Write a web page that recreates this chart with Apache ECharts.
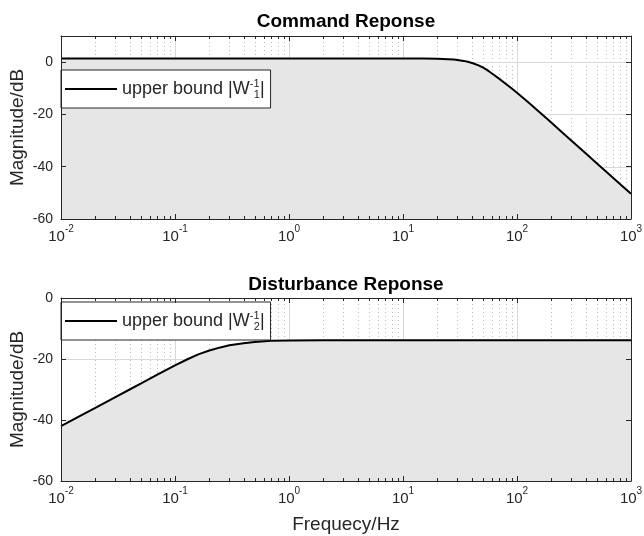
<!DOCTYPE html>
<html>
<head>
<meta charset="utf-8">
<title>Command / Disturbance Reponse</title>
<script src="https://cdn.jsdelivr.net/npm/echarts@6/dist/echarts.min.js"></script>
<style>
  html, body { margin: 0; padding: 0; background: #fff; }
  #chart { width: 644px; height: 536px; }
</style>
</head>
<body>
<div id="chart"></div>
<script>
// Upper bound of the command response |W1^-1| (frequency in Hz, magnitude in dB)
const cmdFreq = [0.01, 0.1, 1, 5, 10, 15, 20, 25, 28, 31, 34, 37, 41, 46, 50, 54, 57, 63, 70, 80, 90, 100,
  112, 130, 156, 191, 240, 306, 400, 500, 600, 800, 1000];
const cmdMag = [1.4, 1.4, 1.4, 1.4, 1.4, 1.4, 1.34, 1.15, 0.98, 0.76, 0.48, 0.13, -0.43, -1.25, -2.01, -2.88, -3.56, -4.91,
  -6.4, -8.34, -10.1, -11.73, -13.52, -15.94, -18.95, -22.33, -26.2, -30.31, -34.85, -38.63, -41.72, -46.59, -50.37];

// Upper bound of the disturbance response |W2^-1|
const distFreq = [0.01, 0.015, 0.02, 0.03, 0.04, 0.05, 0.07, 0.1, 0.13, 0.16, 0.2, 0.25, 0.3, 0.4,
  0.5, 0.7, 1, 2, 5, 10, 100, 1000];
const distMag = [-42.0, -38.5, -36.0, -32.5, -30.0, -28.05, -25.15, -22.1, -20.0, -18.5, -17.2, -16.2, -15.5, -14.8,
  -14.4, -14.05, -13.9, -13.85, -13.85, -13.85, -13.85, -13.85];

// Axis ticks
const decadeTicks = [0.01, 0.1, 1, 10, 100, 1000];
const decadeExponents = ['-2', '-1', '0', '1', '2', '3'];
const minorTicks = [];
decadeTicks.slice(0, -1).forEach(d => { for (let k = 2; k <= 9; k++) minorTicks.push(+(d * k).toPrecision(3)); });
const cmdYGrid = [0, -20, -40];
const distYGrid = [-20, -40];

const titles = ['Command Reponse', 'Disturbance Reponse'];
const yName = 'Magnitude/dB';
const xName = 'Frequecy/Hz';
const legendLabels = ['upper bound |W{sup|-1}{sub|1}|', 'upper bound |W{sup|-1}{sub|2}|'];

const FONT = '"Liberation Sans", Arial, Helvetica, sans-serif';
const INK = '#262626';
const X_MIN = 0.01, X_MAX = 1000;
const yRanges = [[-60, 10], [-60, 0]];
const grids = [
  { left: 61, top: 36, width: 570, height: 183 },
  { left: 61, top: 298, width: 570, height: 183 }
];

const chart = echarts.init(document.getElementById('chart'), null, { renderer: 'canvas' });

function xAxisPair(gi) {
  const base = {
    gridIndex: gi, type: 'log', logBase: 10, min: X_MIN, max: X_MAX, z: 5,
    axisLine: { show: true, onZero: false, lineStyle: { color: INK, width: 1 } },
    axisTick: { show: true, inside: true, length: 5, lineStyle: { color: INK } },
    splitLine: { show: false }, minorTick: { show: false }
  };
  const bottom = Object.assign({}, base, {
    position: 'bottom',
    axisLabel: {
      show: true, margin: 5, interval: 0, hideOverlap: false,
      formatter: (v, i) => '{b|10}{s|' + decadeExponents[i] + '}',
      rich: {
        b: { fontFamily: FONT, fontSize: 15, color: INK, lineHeight: 26 },
        s: { fontFamily: FONT, fontSize: 10, color: INK, lineHeight: 10, verticalAlign: 'top' }
      }
    }
  });
  if (gi === 1) {
    Object.assign(bottom, {
      name: xName, nameLocation: 'middle', nameGap: 34, nameMoveOverlap: false,
      nameTextStyle: { fontFamily: FONT, fontSize: 19, color: INK }
    });
  }
  const top = Object.assign({}, base, { position: 'top', axisLabel: { show: false } });
  return [bottom, top];
}

function yAxisPair(gi) {
  const [lo, hi] = yRanges[gi];
  const base = {
    gridIndex: gi, type: 'value', min: lo, max: hi, interval: 20, z: 5,
    axisLine: { show: true, onZero: false, lineStyle: { color: INK, width: 1 } },
    axisTick: { show: true, inside: true, length: 5, lineStyle: { color: INK } },
    splitLine: { show: false }
  };
  const left = Object.assign({}, base, {
    position: 'left',
    name: yName, nameLocation: 'middle', nameGap: 34, nameMoveOverlap: false,
    nameTextStyle: { fontFamily: FONT, fontSize: 19, color: INK },
    axisLabel: { show: true, margin: 8, showMaxLabel: gi === 1, fontFamily: FONT, fontSize: 14, color: INK }
  });
  const right = Object.assign({}, base, { position: 'right', axisLabel: { show: false } });
  return [left, right];
}

// Grid lines: major (solid) and minor (dotted) decades plus horizontal dB lines
function gridLineSeries(gi, yVals) {
  const [lo, hi] = yRanges[gi];
  const rows = [];
  decadeTicks.forEach(f => rows.push([f, lo, 0]));
  minorTicks.forEach(f => rows.push([f, lo, 1]));
  yVals.forEach(y => rows.push([X_MIN, y, 2]));
  return {
    type: 'custom', xAxisIndex: gi * 2, yAxisIndex: gi * 2, z: 1, silent: true,
    encode: { x: 0, y: 1 },
    data: rows,
    renderItem: (params, api) => {
      const kind = api.value(2);
      let p1, p2;
      if (kind === 2) {
        p1 = api.coord([X_MIN, api.value(1)]);
        p2 = api.coord([X_MAX, api.value(1)]);
        p1[1] = p2[1] = Math.round(p1[1]) + 0.5;
      } else {
        p1 = api.coord([api.value(0), lo]);
        p2 = api.coord([api.value(0), hi]);
        p1[0] = p2[0] = Math.round(p1[0]) + 0.5;
      }
      return {
        type: 'line',
        shape: { x1: p1[0], y1: p1[1], x2: p2[0], y2: p2[1] },
        style: kind === 1
          ? { stroke: '#bdbdbd', lineWidth: 1, lineDash: [1, 3] }
          : { stroke: '#d9d9d9', lineWidth: 1 }
      };
    }
  };
}

// Minor tick marks on the top and bottom frame
function minorTickSeries(gi) {
  const [lo, hi] = yRanges[gi];
  return {
    type: 'custom', xAxisIndex: gi * 2, yAxisIndex: gi * 2, z: 4, silent: true,
    encode: { x: 0, y: 1 },
    data: minorTicks.map(f => [f, lo]),
    renderItem: (params, api) => {
      const b = api.coord([api.value(0), lo]);
      const t = api.coord([api.value(0), hi]);
      const x = Math.round(b[0]) + 0.5;
      return {
        type: 'group',
        children: [
          { type: 'line', shape: { x1: x, y1: b[1], x2: x, y2: b[1] - 3 }, style: { stroke: INK, lineWidth: 1 } },
          { type: 'line', shape: { x1: x, y1: t[1], x2: x, y2: t[1] + 3 }, style: { stroke: INK, lineWidth: 1 } }
        ]
      };
    }
  };
}

function boundSeries(gi, name, freq, mag) {
  return {
    type: 'line', name, xAxisIndex: gi * 2, yAxisIndex: gi * 2, z: 2,
    data: freq.map((f, i) => [f, mag[i]]),
    symbol: 'none', showSymbol: false, smooth: false,
    lineStyle: { color: '#000', width: 2, join: 'round' },
    itemStyle: { color: '#000' },
    areaStyle: { color: '#e6e6e6', opacity: 1, origin: 'start' }
  };
}

const legendRich = {
  sup: { fontFamily: FONT, fontSize: 11, color: INK, lineHeight: 11, verticalAlign: 'top', width: 4 },
  sub: { fontFamily: FONT, fontSize: 11, color: INK, lineHeight: 11, verticalAlign: 'bottom' }
};

function legendBox(top, seriesName, label) {
  return {
    data: [{ name: seriesName, icon: 'rect' }], left: 61, top: top, orient: 'horizontal',
    backgroundColor: '#fff', borderColor: INK, borderWidth: 1, borderRadius: 0,
    padding: [8, 6, 8, 4], itemWidth: 52, itemHeight: 2, itemGap: 0,
    selectedMode: false,
    formatter: () => label,
    textStyle: { fontFamily: FONT, fontSize: 18, color: INK, lineHeight: 22, rich: legendRich }
  };
}

const option = {
  animation: false,
  backgroundColor: '#fff',
  title: [
    { text: titles[0], left: 346, top: 12, textAlign: 'center', padding: 0,
      textStyle: { fontFamily: FONT, fontSize: 19, fontWeight: 'bold', color: '#000' } },
    { text: titles[1], left: 346, top: 275, textAlign: 'center', padding: 0,
      textStyle: { fontFamily: FONT, fontSize: 19, fontWeight: 'bold', color: '#000' } }
  ],
  grid: grids.map(g => Object.assign({ containLabel: false, outerBoundsMode: 'none' }, g)),
  xAxis: [...xAxisPair(0), ...xAxisPair(1)],
  yAxis: [...yAxisPair(0), ...yAxisPair(1)],
  legend: [
    legendBox(70, 'W1 bound', legendLabels[0]),
    legendBox(302, 'W2 bound', legendLabels[1])
  ],
  series: [
    gridLineSeries(0, cmdYGrid),
    boundSeries(0, 'W1 bound', cmdFreq, cmdMag),
    minorTickSeries(0),
    gridLineSeries(1, distYGrid),
    boundSeries(1, 'W2 bound', distFreq, distMag),
    minorTickSeries(1)
  ]
};

chart.setOption(option);
</script>
</body>
</html>
